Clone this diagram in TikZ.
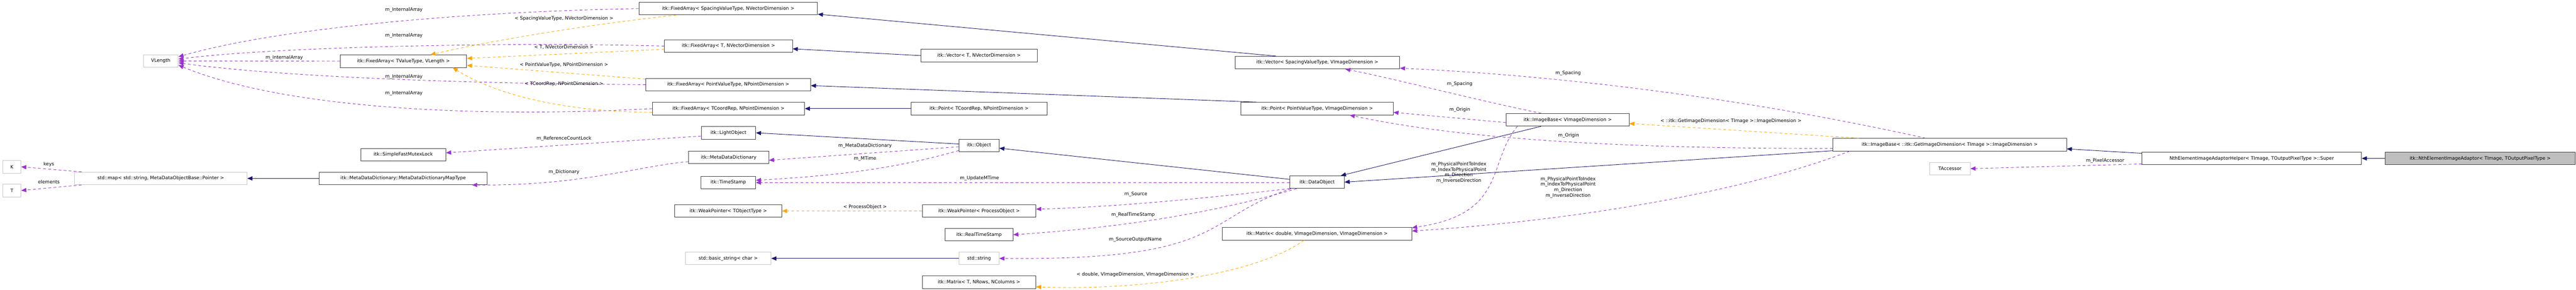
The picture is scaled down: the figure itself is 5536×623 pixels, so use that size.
\documentclass[tikz,border=0pt]{standalone}
\usepackage{fontspec}
\setmainfont{DejaVu Sans}
\usetikzlibrary{arrows.meta}
\definecolor{inh}{HTML}{191970}
\definecolor{usec}{HTML}{9A32CD}
\definecolor{tmpl}{HTML}{FFA500}
\begin{document}
\begin{tikzpicture}[x=1pt,y=-1pt,
  every node/.style={font=\fontsize{10}{12}\selectfont},
  box/.style={draw=black!75, line width=1pt, rectangle, inner sep=0pt, minimum height=27pt, fill=white},
  gbox/.style={box, draw=black!22},
  inherit/.style={draw=inh, line width=1pt, -{Triangle[length=11pt,width=9pt]}},
  use/.style={draw=usec, line width=1pt, dash pattern=on 6pt off 5pt, -{Triangle[length=11pt,width=9pt]}},
  inst/.style={draw=tmpl, line width=1pt, dash pattern=on 6pt off 5pt, -{Triangle[length=11pt,width=9pt]}},
  lbl/.style={inner sep=0pt, align=center}]
\useasboundingbox[fill=white] (0,0) rectangle (5536,623);
% nodes
\node[gbox, minimum width=75pt] (VLength) at (345.5,131) {VLength};
\node[gbox, minimum width=39pt] (K) at (25.5,358.5) {K};
\node[gbox, minimum width=39pt] (T) at (25.5,409.5) {T};
\node[gbox, minimum width=371pt] (map) at (345.5,383.5) {std::map< std::string, MetaDataObjectBase::Pointer >};
\node[box, minimum width=272pt] (FAtv) at (867,131.5) {itk::FixedArray< TValueType, VLength >};
\node[box, minimum width=361pt] (MapType) at (866.5,383.5) {itk::MetaDataDictionary::MetaDataDictionaryMapType};
\node[box, minimum width=183pt] (Mutex) at (866.5,332.5) {itk::SimpleFastMutexLock};
\node[box, minimum width=384pt] (FAsp) at (1565,18.5) {itk::FixedArray< SpacingValueType, NVectorDimension >};
\node[box, minimum width=275pt] (FAt) at (1565.5,99) {itk::FixedArray< T, NVectorDimension >};
\node[box, minimum width=354pt] (FApv) at (1565,182) {itk::FixedArray< PointValueType, NPointDimension >};
\node[box, minimum width=327pt] (FAtc) at (1565.5,233.5) {itk::FixedArray< TCoordRep, NPointDimension >};
\node[box, minimum width=117pt] (LightObject) at (1565.5,285.5) {itk::LightObject};
\node[box, minimum width=172pt] (MDD) at (1566,338.5) {itk::MetaDataDictionary};
\node[box, minimum width=118pt] (TimeStamp) at (1565,392.5) {itk::TimeStamp};
\node[box, minimum width=230pt] (WPt) at (1565,453.5) {itk::WeakPointer< TObjectType >};
\node[gbox, minimum width=184pt] (basicstr) at (1565,555.5) {std::basic\_string< char >};
\node[box, minimum width=250pt] (VecT) at (2104,119.5) {itk::Vector< T, NVectorDimension >};
\node[box, minimum width=292pt] (PtTC) at (2104,233.5) {itk::Point< TCoordRep, NPointDimension >};
\node[box, minimum width=86pt] (Object) at (2104,312.5) {itk::Object};
\node[box, minimum width=244pt] (WPp) at (2104,453.5) {itk::WeakPointer< ProcessObject >};
\node[box, minimum width=146pt] (RTS) at (2104,504.5) {itk::RealTimeStamp};
\node[gbox, minimum width=86pt] (str) at (2104,555.5) {std::string};
\node[box, minimum width=244pt] (MatT) at (2104,606.5) {itk::Matrix< T, NRows, NColumns >};
\node[box, minimum width=354pt] (VecS) at (2831,134.5) {itk::Vector< SpacingValueType, VImageDimension >};
\node[box, minimum width=327pt] (PtP) at (2830.5,233.5) {itk::Point< PointValueType, VImageDimension >};
\node[box, minimum width=117pt] (DataObject) at (2830.5,391.5) {itk::DataObject};
\node[box, minimum width=407pt] (MatD) at (2830.5,502.5) {itk::Matrix< double, VImageDimension, VImageDimension >};
\node[box, minimum width=264pt] (IB) at (3369,257.5) {itk::ImageBase< VImageDimension >};
\node[box, minimum width=502pt] (IBG) at (4190,311) {itk::ImageBase< ::itk::GetImageDimension< TImage >::ImageDimension >};
\node[gbox, minimum width=87pt] (TAcc) at (4190.5,362.5) {TAccessor};
\node[box, minimum width=472pt] (Super) at (4839,340.5) {NthElementImageAdaptorHelper< TImage, TOutputPixelType >::Super};
\node[box, fill=black!25, minimum width=408pt] (Adaptor) at (5330,340.5) {itk::NthElementImageAdaptor< TImage, TOutputPixelType >};
% VLength usages
\draw[use] (FAsp.west) .. controls (1000,25) and (600,60) .. ([yshift=9pt]VLength.east);
\node[lbl] (l1) at (868,21) {m\_InternalArray};
\draw[use] (FAt.west) .. controls (1100,90) and (600,100) .. ([yshift=4pt]VLength.east);
\node[lbl] (l2) at (868,77) {m\_InternalArray};
\draw[use] (FAtv.west) -- (VLength.east);
\node[lbl] (l3) at (611,124) {m\_InternalArray};
\draw[use] (FApv.west) .. controls (1000,180) and (600,165) .. ([yshift=-4pt]VLength.east);
\node[lbl] (l4) at (868,165) {m\_InternalArray};
\draw[use] (FAtc.west) .. controls (1000,255) and (600,230) .. ([yshift=-9pt]VLength.east);
\node[lbl] (l5) at (868,201) {m\_InternalArray};
% template instantiations of FixedArray
\draw[inst] ([xshift=-112pt]FAsp.south) .. controls (1200,60) and (1000,100) .. ([xshift=58pt]FAtv.north);
\node[lbl] (l6) at (1212,40) {< SpacingValueType, NVectorDimension >};
\draw[inst] ([yshift=-7pt]FAt.west) -- ([yshift=6pt]FAtv.east);
\node[lbl] (l7) at (1212,101) {< T, NVectorDimension >};
\draw[inst] ([yshift=12pt]FApv.west) -- ([yshift=-9pt]FAtv.east);
\node[lbl] (l8) at (1212,139) {< PointValueType, NPointDimension >};
\draw[inst] ([yshift=-8pt]FAtc.west) .. controls (1200,240) and (1060,200) .. ([xshift=106pt]FAtv.south);
\node[lbl] (l9) at (1212,180) {< TCoordRep, NPointDimension >};
% inheritance
\draw[inherit] ([xshift=-89pt]VecS.north) -- ([yshift=-12pt]FAsp.east);
\draw[inherit] (VecT.west) -- ([yshift=-6pt]FAt.east);
\draw[inherit] ([xshift=-130pt]PtP.north) -- ([yshift=-2pt]FApv.east);
\draw[inherit] (PtTC.west) -- (FAtc.east);
\draw[inherit] ([yshift=3pt]Object.west) -- (LightObject.east);
\draw[inherit] ([yshift=6pt]DataObject.west) -- ([yshift=-6pt]Object.east);
\draw[inherit] ([xshift=-57pt]IB.south) -- ([xshift=-8pt]DataObject.north east);
\draw[inherit] ([yshift=-13pt]IBG.west) -- (DataObject.east);
\draw[inherit] ([yshift=11pt]Super.west) -- ([yshift=-9pt]IBG.east);
\draw[inherit] (Adaptor.west) -- (Super.east);
\draw[inherit] (str.west) -- (basicstr.east);
\draw[inherit] (MapType.west) -- (map.east);
% usages
\draw[use] ([yshift=-7pt]LightObject.west) -- ([yshift=4pt]Mutex.east);
\node[lbl] (l10) at (1212,298) {m\_ReferenceCountLock};
\draw[use] ([yshift=-9pt]MDD.west) .. controls (1380,355) and (1250,400) .. ([xshift=148pt]MapType.south);
\node[lbl] (l11) at (1212,370) {m\_Dictionary};
\draw[use] ([yshift=-3pt]Object.west) -- ([yshift=-6pt]MDD.east);
\node[lbl] (l12) at (1859,313) {m\_MetaDataDictionary};
\draw[use] ([yshift=-11pt]Object.west) .. controls (1900,370) and (1750,380) .. ([yshift=5pt]TimeStamp.east);
\node[lbl] (l13) at (1859,341) {m\_MTime};
\draw[use] ([yshift=-1pt]DataObject.west) -- (TimeStamp.east);
\node[lbl] (l14) at (2105,383) {m\_UpdateMTime};
\draw[use] (DataObject.south west) .. controls (2600,425) and (2400,445) .. ([yshift=4pt]WPp.east);
\node[lbl] (l15) at (2441,418) {m\_Source};
\draw[use] ([xshift=15pt]DataObject.south west) .. controls (2600,460) and (2400,490) .. (RTS.east);
\node[lbl] (l16) at (2435,462) {m\_RealTimeStamp};
\draw[use] ([xshift=3pt]DataObject.south west) .. controls (2580,470) and (2640,560) .. (str.east);
\node[lbl] (l17) at (2440,515) {m\_SourceOutputName};
\draw[inst] ([xshift=-28pt]MatD.south) .. controls (2700,590) and (2450,625) .. ([yshift=-10pt]MatT.east);
\node[lbl] (l18) at (2440,590) {< double, VImageDimension, VImageDimension >};
\draw[use] ([xshift=-57pt]IB.north) .. controls (3150,210) and (3000,170) .. ([xshift=60pt]VecS.south);
\node[lbl] (l19) at (3137,181) {m\_Spacing};
\draw[use] ([yshift=-6pt]IB.west) -- ([yshift=-8pt]PtP.east);
\node[lbl] (l20) at (3137,236) {m\_Origin};
\draw[use] ([xshift=-108pt]IB.south) .. controls (3195,350) and (3240,460) .. ([yshift=13pt]MatD.east);
\node[lbl] (l21) at (3135,371) {m\_PhysicalPointToIndex\\m\_IndexToPhysicalPoint\\m\_Direction\\m\_InverseDirection};
\draw[use] ([xshift=-52pt]IBG.north) .. controls (3700,200) and (3300,160) .. ([yshift=-12pt]VecS.east);
\node[lbl] (l22) at (3370,157) {m\_Spacing};
\draw[use] ([yshift=-8pt]IBG.west) .. controls (3400,320) and (3100,290) .. ([xshift=70pt]PtP.south);
\node[lbl] (l23) at (3371,291) {m\_Origin};
\draw[use] ([xshift=-215pt]IBG.south) .. controls (3700,430) and (3300,480) .. ([yshift=6pt]MatD.east);
\node[lbl] (l24) at (3370,403) {m\_PhysicalPointToIndex\\m\_IndexToPhysicalPoint\\m\_Direction\\m\_InverseDirection};
\draw[inst] ([xshift=-195pt]IBG.north) -- ([yshift=-8pt]IB.east);
\node[lbl] (l25) at (3720,260) {< ::itk::GetImageDimension< TImage >::ImageDimension >};
\draw[use] ([yshift=-12pt]Super.west) -- (TAcc.east);
\node[lbl] (l26) at (4524,346) {m\_PixelAccessor};
\draw[use] ([xshift=-170pt]map.north) -- (K.east);
\node[lbl] (l27) at (105,353) {keys};
\draw[use] ([xshift=-170pt]map.south) -- (T.east);
\node[lbl] (l28) at (105,391) {elements};
\draw[inst] (WPp.west) -- (WPt.east);
\node[lbl] (l29) at (1859,445) {< ProcessObject >};
\end{tikzpicture}
\end{document}
